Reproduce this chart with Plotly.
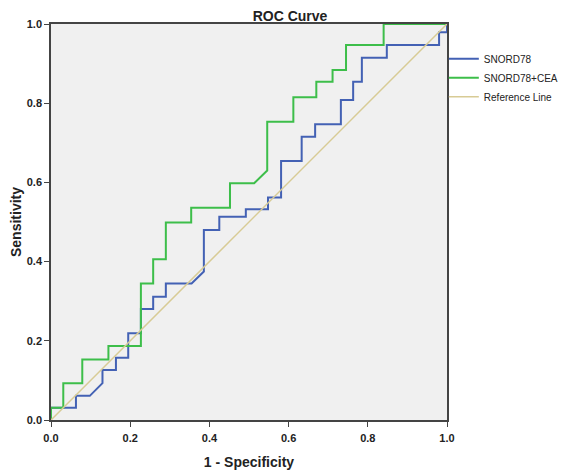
import plotly.graph_objects as go

# SNORD78 ROC step curve (1 - specificity, sensitivity)
snord_fpr = [0.0, 0.0, 0.063, 0.063, 0.098, 0.13, 0.13, 0.164, 0.164, 0.195, 0.195, 0.227, 0.227,
             0.258, 0.258, 0.29, 0.29, 0.355, 0.386, 0.386, 0.425, 0.425, 0.492, 0.492, 0.548,
             0.548, 0.581, 0.581, 0.633, 0.633, 0.667, 0.667, 0.732, 0.732, 0.763, 0.763, 0.785,
             0.785, 0.848, 0.848, 0.98, 0.98, 1.0, 1.0]
snord_tpr = [0.0, 0.031, 0.031, 0.061, 0.061, 0.093, 0.126, 0.126, 0.157, 0.157, 0.219, 0.219, 0.28,
             0.28, 0.311, 0.311, 0.345, 0.345, 0.375, 0.48, 0.48, 0.513, 0.513, 0.532, 0.532,
             0.562, 0.562, 0.654, 0.654, 0.715, 0.715, 0.747, 0.747, 0.808, 0.808, 0.854, 0.854,
             0.915, 0.915, 0.947, 0.947, 0.979, 0.979, 1.0]

# SNORD78+CEA ROC step curve
combo_fpr = [0.0, 0.0, 0.031, 0.031, 0.079, 0.079, 0.145, 0.145, 0.227, 0.227, 0.258, 0.258, 0.29,
             0.29, 0.354, 0.354, 0.452, 0.452, 0.513, 0.546, 0.546, 0.612, 0.612, 0.67, 0.67,
             0.711, 0.711, 0.745, 0.745, 0.84, 0.84, 1.0]
combo_tpr = [0.0, 0.031, 0.031, 0.093, 0.093, 0.153, 0.153, 0.187, 0.187, 0.345, 0.345, 0.406, 0.406,
             0.499, 0.499, 0.536, 0.536, 0.598, 0.598, 0.63, 0.753, 0.753, 0.815, 0.815, 0.854,
             0.854, 0.884, 0.884, 0.947, 0.947, 1.0, 1.0]

ref_x = [0.0, 1.0]
ref_y = [0.0, 1.0]

tick_vals = [0.0, 0.2, 0.4, 0.6, 0.8, 1.0]
tick_text = ["0.0", "0.2", "0.4", "0.6", "0.8", "1.0"]

FONT = "Liberation Sans, Arial"

fig = go.Figure()
fig.add_trace(go.Scatter(x=snord_fpr, y=snord_tpr, mode="lines", name="SNORD78",
                         line=dict(color="#4361B4", width=2)))
fig.add_trace(go.Scatter(x=combo_fpr, y=combo_tpr, mode="lines", name="SNORD78+CEA",
                         line=dict(color="#3DBE4A", width=2)))
fig.add_trace(go.Scatter(x=ref_x, y=ref_y, mode="lines", name="Reference Line",
                         line=dict(color="#D8CB95", width=1.5)))

axis_common = dict(range=[0, 1], tickvals=tick_vals, ticktext=tick_text, showgrid=False,
                   zeroline=False, showline=True, linecolor="#444444", linewidth=1.5,
                   mirror=True, ticks="outside", ticklen=5, tickcolor="#444444",
                   automargin=False,
                   tickfont=dict(family=FONT, size=11, color="#222222", weight="bold"))

fig.update_layout(
    width=559, height=463,
    margin=dict(l=43, r=120, t=16, b=51, autoexpand=False),
    paper_bgcolor="white", plot_bgcolor="#F0F0F0",
    title=dict(text="<b>ROC Curve</b>", x=0.5045, xref="container", xanchor="center",
               y=0.9827, yref="container", yanchor="middle", pad=dict(t=0, b=0),
               font=dict(family=FONT, size=14, color="#222222")),
    xaxis=dict(title=dict(text="<b>1 - Specificity</b>", standoff=14,
                          font=dict(family=FONT, size=14, color="#222222")),
               ticklabelstandoff=2, **axis_common),
    yaxis=dict(title=dict(text="<b>Sensitivity</b>", standoff=6,
                          font=dict(family=FONT, size=14, color="#222222")),
               **axis_common),
    legend=dict(x=0.992, y=0.949, xanchor="left", yanchor="top", itemwidth=30,
                bgcolor="rgba(0,0,0,0)", tracegroupgap=0,
                font=dict(family=FONT, size=10, color="#222222")),
    showlegend=True,
)

fig.write_html("out.html")
